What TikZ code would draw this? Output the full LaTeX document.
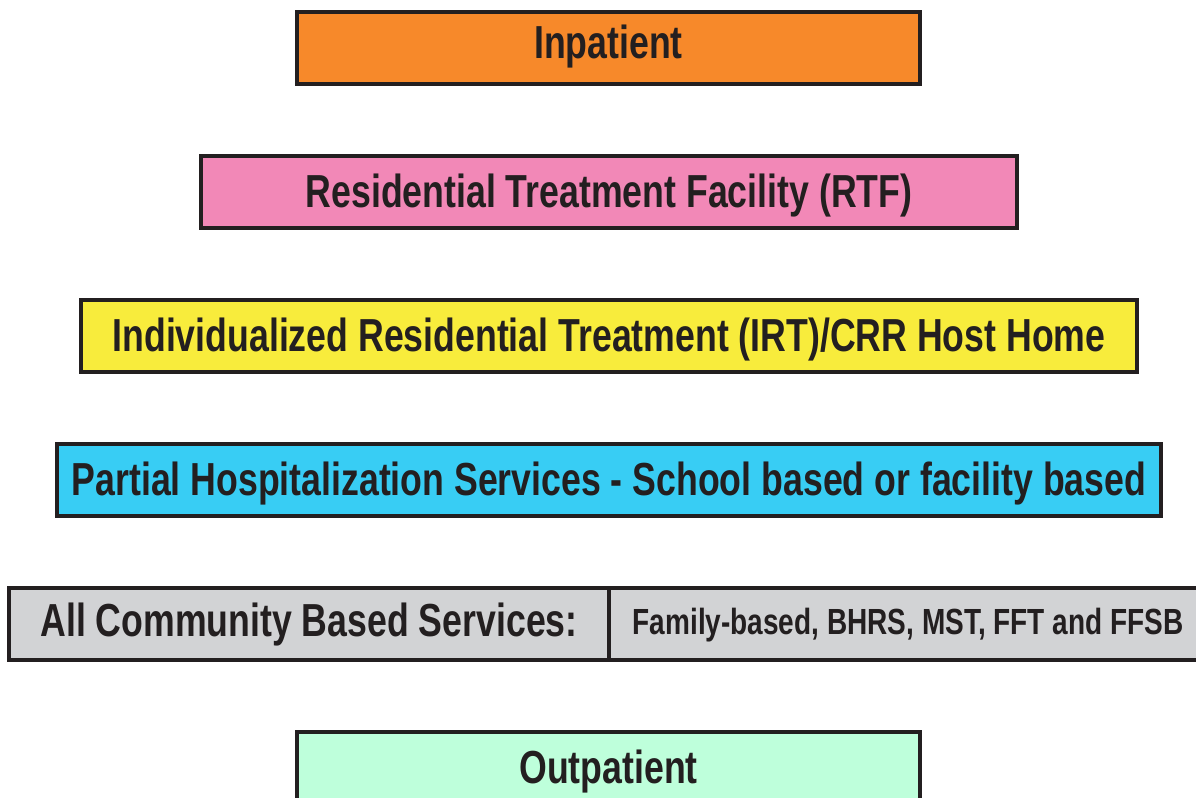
\documentclass[tikz,border=0pt]{standalone}
\usepackage{fontspec}
\newfontfamily\levelfont{Liberation Sans}[FakeStretch=0.77]
\usetikzlibrary{positioning}
\definecolor{edge}{HTML}{231F20}
\definecolor{inpat}{HTML}{F7892A}
\definecolor{rtf}{HTML}{F288B7}
\definecolor{irt}{HTML}{F8EC3C}
\definecolor{phs}{HTML}{38CDF4}
\definecolor{cbs}{HTML}{D2D3D5}
\definecolor{outpat}{HTML}{BEFFDB}

\begin{document}
\begin{tikzpicture}[x=1bp, y=-1bp,
		level/.style = {draw=edge, line width=4bp, inner sep=0pt, outer sep=0pt, minimum height=72bp,
			text=edge, font=\levelfont\bfseries\fontsize{46.5}{50}\selectfont,
			text height=34bp, text depth=4bp},
		small/.style = {font=\levelfont\bfseries\fontsize{36.5}{40}\selectfont,
			text height=26bp, text depth=6bp}]
		\useasboundingbox (0,0) rectangle (1196,798);
		
		\node[level, fill=inpat, minimum width=623bp, text depth=12bp] (inpatient) at (608.5,48) {Inpatient};
		\node[level, fill=rtf, minimum width=816bp] (rtf) at (609,192) {Residential Treatment Facility (RTF)};
		\node[level, fill=irt, minimum width=1056bp] (irt) at (609,336) {Individualized Residential Treatment (IRT)/CRR Host Home};
		\node[level, fill=phs, minimum width=1104bp] (partial) at (609,480) {Partial Hospitalization Services - School based or facility based};
		
		% community row, two cells
		\node[level, fill=cbs, minimum width=600bp, text depth=8.6bp] (community) at (309,624) {All Community Based Services:};
		\node[level, small, fill=cbs, minimum width=598bp, right=0pt of community] (services) {Family-based, BHRS, MST, FFT and FFSB};
		
		\node[level, fill=outpat, minimum width=623bp] (outpatient) at (608.5,768) {Outpatient};
	\end{tikzpicture}
\end{document}
